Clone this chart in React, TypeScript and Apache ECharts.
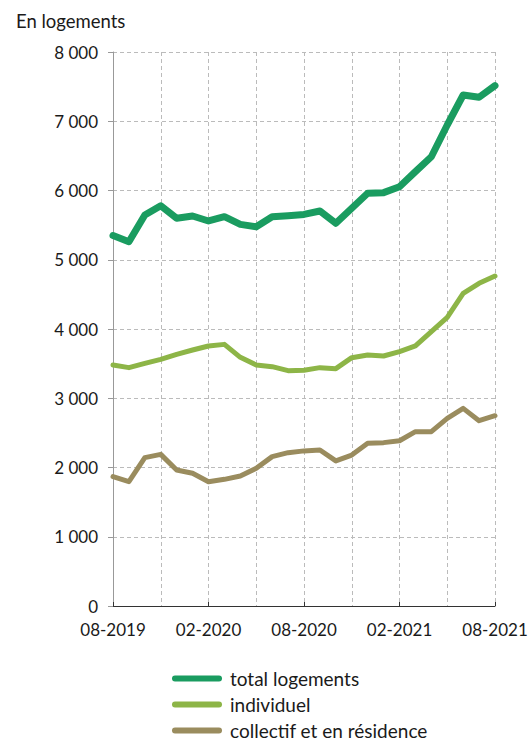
import React, { useEffect, useRef } from "react";
import * as echarts from "echarts";

const categories = [
  "08-2019", "09-2019", "10-2019", "11-2019", "12-2019",
  "01-2020", "02-2020", "03-2020", "04-2020", "05-2020", "06-2020", "07-2020",
  "08-2020", "09-2020", "10-2020", "11-2020", "12-2020",
  "01-2021", "02-2021", "03-2021", "04-2021", "05-2021", "06-2021", "07-2021", "08-2021",
];

const totalLogements = [
  5350, 5260, 5646, 5780, 5600, 5632, 5560, 5622, 5511, 5477, 5622, 5636,
  5655, 5704, 5526, 5743, 5960, 5969, 6055, 6272, 6488, 6946, 7379, 7346, 7514,
];

const individuel = [
  3480, 3442, 3504, 3562, 3634, 3697, 3755, 3778, 3591, 3480, 3456, 3398,
  3405, 3442, 3427, 3586, 3625, 3610, 3673, 3755, 3962, 4169, 4515, 4660, 4765,
];

const collectif = [
  1868, 1795, 2142, 2190, 1964, 1916, 1795, 1829, 1877, 1988, 2157, 2214,
  2240, 2253, 2095, 2180, 2349, 2359, 2387, 2517, 2517, 2710, 2854, 2676, 2748,
];

const seriesNames = ["total logements", "individuel", "collectif et en résidence"];
const colors = ["#1a9c60", "#8db547", "#9a8c5e"];
const yTitle = "En logements";

const FONT = "Lato, 'Noto Sans', sans-serif";

export default function App() {
  const ref = useRef<HTMLDivElement>(null);

  useEffect(() => {
    if (!ref.current) return;
    const chart = echarts.init(ref.current, undefined, { renderer: "svg" });
    const capsule = "path://M3,0 L47,0 A3,3 0 0 1 47,6 L3,6 A3,3 0 0 1 3,0 Z";
    const mk = (name: string, data: number[], color: string, width: number) => ({
      name,
      type: "line",
      data,
      showSymbol: false,
      symbol: "none",
      lineStyle: { color, width, cap: "round", join: "round" },
      itemStyle: { color },
    });
    chart.setOption({
      animation: false,
      textStyle: { fontFamily: FONT },
      title: {
        text: yTitle,
        left: 11,
        top: 6,
        textStyle: { fontFamily: FONT, fontSize: 18.5, fontWeight: "normal", color: "#1a1a1a" },
      },
      grid: { left: 113, right: 36, top: 52, bottom: 136, containLabel: false },
      xAxis: {
        type: "category",
        data: categories,
        boundaryGap: false,
        axisLine: { show: true, lineStyle: { color: "#333", width: 1 } },
        axisTick: { show: true, inside: true, length: 4, interval: 5, lineStyle: { color: "#333" } },
        axisLabel: {
          interval: 5,
          margin: 15,
          fontSize: 17,
          color: "#1a1a1a",
          fontFamily: FONT,
        },
        splitLine: {
          show: true,
          interval: 2,
          lineStyle: { color: "#bbb", type: [4, 3], width: 1 },
        },
      },
      yAxis: {
        type: "value",
        min: 0,
        max: 8000,
        interval: 1000,
        axisLine: { show: true, lineStyle: { color: "#999", width: 1 } },
        axisTick: { show: true, length: 5, lineStyle: { color: "#999" } },
        axisLabel: {
          margin: 15,
          fontSize: 17,
          color: "#1a1a1a",
          fontFamily: FONT,
          formatter: (v: number) => String(v).replace(/\B(?=(\d{3})+(?!\d))/g, " "),
        },
        splitLine: { show: true, lineStyle: { color: "#bbb", type: [4, 3], width: 1 } },
      },
      legend: seriesNames.map((n, i) => ({
        orient: "horizontal",
        left: 172,
        top: 669 + i * 26,
        padding: 0,
        itemWidth: 50,
        itemHeight: 6,
        icon: capsule,
        textStyle: { fontSize: 19, color: "#1a1a1a", fontFamily: FONT, padding: [0, 0, 0, 3] },
        data: [{ name: n, itemStyle: { color: colors[i] } }],
      })),
      series: [
        mk(seriesNames[2], collectif, colors[2], 5),
        mk(seriesNames[1], individuel, colors[1], 5),
        mk(seriesNames[0], totalLogements, colors[0], 7),
      ],
    });
    return () => chart.dispose();
  }, []);

  return (
    <div
      ref={ref}
      style={{ position: "fixed", left: 0, top: 0, width: 531, height: 742, background: "#fff" }}
    />
  );
}
